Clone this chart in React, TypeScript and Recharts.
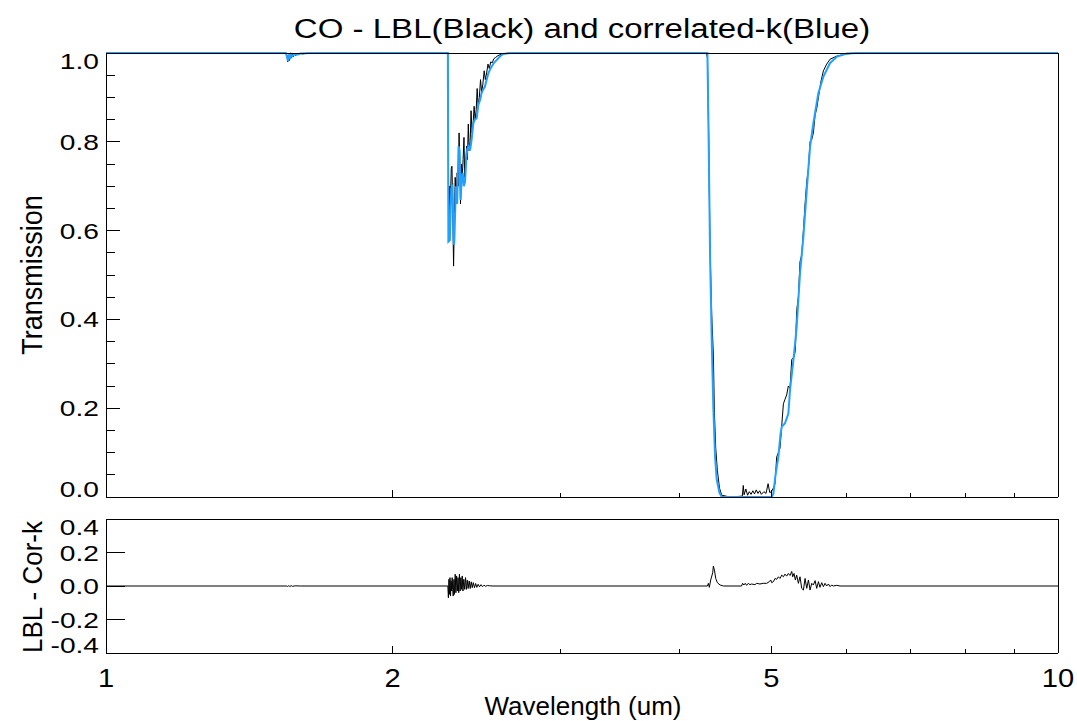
import React from 'react';
import { LineChart, Line, XAxis, YAxis } from 'recharts';

// LBL transmission (black)
const lblWave = [
  1.0, 1.545, 1.549, 1.552, 1.555, 1.558, 1.561, 1.564, 1.568, 1.572, 1.577, 1.582, 1.588, 1.594, 1.6, 1.61, 1.62, 1.64,
  2.286, 2.291, 2.296, 2.3, 2.305, 2.309, 2.313, 2.318, 2.322, 2.327, 2.333, 2.338, 2.344, 2.349, 2.353, 2.357, 2.362,
  2.367, 2.372, 2.377, 2.381, 2.386, 2.392, 2.397, 2.402, 2.407, 2.413, 2.418, 2.424, 2.43, 2.436, 2.442, 2.448, 2.454,
  2.46, 2.467, 2.474, 2.481, 2.488, 2.496, 2.503, 2.511, 2.519, 2.527, 2.536, 2.545, 2.555, 2.566, 2.58, 2.6, 2.63, 2.66,
  4.27, 4.283, 4.296, 4.31, 4.328, 4.345, 4.356, 4.37, 4.387, 4.41, 4.434, 4.5, 4.6, 4.66, 4.671, 4.68, 4.7, 4.72, 4.74,
  4.76, 4.78, 4.8, 4.82, 4.84, 4.86, 4.88, 4.91, 4.935, 4.96, 4.98, 5.0, 5.022, 5.044, 5.064, 5.085, 5.105, 5.126, 5.147,
  5.167, 5.188, 5.209, 5.23, 5.252, 5.281, 5.298, 5.315, 5.337, 5.358, 5.38, 5.402, 5.424, 5.446, 5.468, 5.49, 5.512,
  5.534, 5.557, 5.579, 5.602, 5.635, 5.67, 5.715, 5.762, 5.856, 6.0, 6.146, 10.0,
];
const lblTrans = [
  1.0, 1.0, 0.995, 0.98, 0.996, 0.983, 0.997, 0.988, 0.998, 0.991, 0.998, 0.994, 0.999, 0.996, 0.999, 0.998, 0.999, 1.0,
  1.0, 0.62, 0.7, 0.66, 0.74, 0.745, 0.65, 0.52, 0.62, 0.72, 0.66, 0.73, 0.7, 0.82, 0.75, 0.66, 0.75,
  0.72, 0.76, 0.81, 0.72, 0.74, 0.79, 0.76, 0.84, 0.78, 0.8, 0.87, 0.82, 0.84, 0.88, 0.85, 0.87, 0.92,
  0.88, 0.9, 0.94, 0.91, 0.93, 0.96, 0.94, 0.955, 0.975, 0.965, 0.98, 0.978, 0.987, 0.99, 0.994, 0.997, 0.999, 1.0,
  1.0, 0.99, 0.81, 0.56, 0.41, 0.32, 0.19, 0.11, 0.06, 0.02, 0.004, 0.001, 0.001, 0.002, 0.026, 0.005, 0.018, 0.004, 0.012,
  0.006, 0.014, 0.007, 0.016, 0.008, 0.014, 0.006, 0.012, 0.008, 0.03, 0.01, 0.012, 0.02, 0.03, 0.09, 0.1, 0.11, 0.16, 0.21,
  0.22, 0.23, 0.25, 0.245, 0.31, 0.315, 0.33, 0.42, 0.45, 0.53, 0.545, 0.6, 0.66, 0.71, 0.74, 0.8, 0.805,
  0.82, 0.86, 0.875, 0.9, 0.935, 0.96, 0.975, 0.986, 0.993, 0.998, 1.0, 1.0,
];

// correlated-k transmission (blue)
const ckWave = [
  1.0, 1.545, 1.55, 1.553, 1.556, 1.559, 1.563, 1.568, 1.575, 1.585, 1.6, 1.64,
  2.286, 2.289, 2.297, 2.305, 2.312, 2.319, 2.322, 2.331, 2.338, 2.346, 2.352, 2.358, 2.364, 2.37, 2.376, 2.383, 2.39,
  2.396, 2.404, 2.412, 2.421, 2.431, 2.44, 2.451, 2.461, 2.472, 2.48, 2.49, 2.5, 2.511, 2.521, 2.531, 2.541, 2.556,
  2.572, 2.593, 2.614, 2.635, 2.657,
  4.27, 4.283, 4.296, 4.31, 4.328, 4.345, 4.363, 4.38, 4.409, 4.434, 5.003, 5.024, 5.05, 5.085, 5.11, 5.126, 5.167,
  5.209, 5.23, 5.273, 5.315, 5.358, 5.402, 5.446, 5.49, 5.534, 5.6, 5.67, 5.76, 5.86, 6.0, 6.15, 10.0,
];
const ckTrans = [
  1.0, 1.0, 0.99, 0.982, 0.995, 0.986, 0.997, 0.992, 0.997, 0.996, 0.999, 1.0,
  1.0, 0.575, 0.578, 0.695, 0.7, 0.568, 0.575, 0.7, 0.66, 0.79, 0.78, 0.669, 0.72, 0.73, 0.7, 0.71, 0.76,
  0.785, 0.79, 0.78, 0.804, 0.841, 0.85, 0.853, 0.883, 0.895, 0.909, 0.918, 0.924, 0.94, 0.954, 0.962, 0.969, 0.978,
  0.984, 0.992, 0.998, 0.999, 1.0,
  1.0, 1.0, 0.8, 0.55, 0.35, 0.2, 0.09, 0.04, 0.01, 0.0, 0.0, 0.008, 0.05, 0.091, 0.14, 0.158, 0.166,
  0.188, 0.241, 0.308, 0.383, 0.504, 0.586, 0.691, 0.789, 0.842, 0.909, 0.947, 0.977, 0.992, 0.999, 1.0, 1.0,
];

// LBL - Cor-k
const diffWave = [
  1.0, 1.549, 1.552, 1.556, 1.56, 1.565, 1.57, 1.58, 1.6,
  2.286, 2.289, 2.292, 2.295, 2.298, 2.301, 2.304, 2.307, 2.31, 2.313, 2.316, 2.32, 2.323, 2.327, 2.331, 2.335, 2.339,
  2.343, 2.347, 2.351, 2.355, 2.359, 2.363, 2.367, 2.371, 2.376, 2.381, 2.386, 2.391, 2.396, 2.401, 2.407, 2.413, 2.419,
  2.425, 2.431, 2.438, 2.445, 2.452, 2.46, 2.468, 2.477, 2.486, 2.495, 2.505, 2.515, 2.53, 2.55,
  4.283, 4.293, 4.303, 4.317, 4.338, 4.345, 4.356, 4.37, 4.387, 4.416, 4.452, 4.652, 4.663, 4.678, 4.693, 4.709, 4.728,
  4.747, 4.766, 4.805, 4.824, 4.863, 4.902, 4.943, 4.975, 4.992, 5.003, 5.024, 5.044, 5.064, 5.085, 5.105, 5.126, 5.147,
  5.167, 5.188, 5.209, 5.23, 5.252, 5.264, 5.281, 5.298, 5.315, 5.337, 5.358, 5.38, 5.402, 5.424, 5.446, 5.468, 5.49,
  5.512, 5.534, 5.557, 5.579, 5.602, 5.623, 5.647, 5.67, 5.692, 5.715, 5.739, 5.762, 5.785, 5.808, 5.856, 5.903, 10.0,
];
const diffVal = [
  0, 0, -0.003, 0.002, -0.003, 0.002, -0.002, 0.001, 0,
  0, -0.07, 0.04, -0.05, 0.05, -0.06, 0.03, -0.03, 0.05, -0.02, -0.06, 0.04, -0.05, 0.07, -0.04, 0.06, -0.03,
  0.05, -0.04, 0.07, -0.03, 0.05, -0.02, 0.06, -0.03, 0.04, -0.02, 0.05, -0.02, 0.035, -0.015, 0.03, -0.015, 0.025,
  -0.01, 0.02, -0.01, 0.015, -0.008, 0.01, -0.005, 0.008, -0.004, 0.005, -0.002, 0.003, 0.001, 0,
  0, 0.016, -0.008, 0.036, 0.079, 0.119, 0.095, 0.045, 0.02, 0.006, 0, 0, 0.016, 0.006, 0.016, 0.004, 0.016,
  0.008, 0.012, 0.008, 0.016, 0.012, 0.016, 0.016, 0.026, 0.036, 0.02, 0.026, 0.045, 0.04, 0.055, 0.045, 0.065, 0.055,
  0.071, 0.059, 0.075, 0.063, 0.087, 0.055, 0.075, 0.036, 0.065, 0.016, 0.055, -0.014, -0.024, 0.045, -0.014, 0.036, -0.024,
  0.016, 0.006, 0.032, -0.014, 0.026, -0.008, 0.02, -0.004, 0.016, 0, 0.012, -0.004, 0.006, 0, 0.004, 0, 0,
];

const xTicks = [1, 2, 3, 4, 5, 6, 7, 8, 9, 10];
const xLabels = [1, 2, 5, 10];
const transTicks = [0, 0.05, 0.1, 0.15, 0.2, 0.25, 0.3, 0.35, 0.4, 0.45, 0.5, 0.55, 0.6, 0.65, 0.7, 0.75, 0.8, 0.85, 0.9, 0.95, 1.0];
const transLabels = [0, 0.2, 0.4, 0.6, 0.8, 1.0];
const diffTicks = [-0.4, -0.2, 0, 0.2, 0.4];

const FONT = '"Liberation Sans", Arial, Helvetica, sans-serif';
const BLUE = '#22a0ff';

const zip = (w: number[], v: number[]) => w.map((x, i) => ({ w: x, v: v[i] }));
const lblData = zip(lblWave, lblTrans);
const ckData = zip(ckWave, ckTrans);
const diffData = zip(diffWave, diffVal);

const has = (list: number[], v: number) => list.some((l) => Math.abs(l - v) < 1e-9);

const crisp = { stroke: '#000', strokeWidth: 1, shapeRendering: 'crispEdges' as const };

// y ticks drawn inward, labels clamped inside the axis range like IDL does
const leftTick = (labels: number[], top: number, bottom: number, majorLen: number, minorLen: number) => (props: any) => {
  const { x, y, payload } = props;
  const v = payload.value;
  const major = has(labels, v);
  const len = major ? majorLen : minorLen;
  const ty = Math.min(Math.max(y, top + 8), bottom - 8) + 8;
  return (
    <g>
      <line x1={x} y1={y} x2={x + len} y2={y} {...crisp} />
      {major && (
        <text transform={`translate(${x - 7},${ty}) scale(1.28,1)`} textAnchor="end" fontSize={22} fontFamily={FONT} fill="#000">
          {v.toFixed(1)}
        </text>
      )}
    </g>
  );
};

const rightTick = (labels: number[], majorLen: number, minorLen: number) => (props: any) => {
  const { x, y, payload } = props;
  const len = has(labels, payload.value) ? majorLen : minorLen;
  return <line x1={x} y1={y} x2={x - len} y2={y} {...crisp} />;
};

const bottomTick = (withLabels: boolean) => (props: any) => {
  const { x, y, payload } = props;
  const v = payload.value;
  const major = xLabels.includes(v);
  const len = major ? 7 : 4;
  return (
    <g>
      <line x1={x} y1={y} x2={x} y2={y - len} {...crisp} />
      {withLabels && major && (
        <text transform={`translate(${x},${y + 34}) scale(1.12,1)`} textAnchor="middle" fontSize={26} fontFamily={FONT} fill="#000">
          {v}
        </text>
      )}
    </g>
  );
};

const topTick = (props: any) => {
  const { x, y, payload } = props;
  const len = xLabels.includes(payload.value) ? 7 : 4;
  return <line x1={x} y1={y} x2={x} y2={y + len} {...crisp} />;
};

const W = 1077;

export default function App() {
  return (
    <div style={{ position: 'absolute', left: 0, top: 0, width: W, height: 721, background: '#fff' }}>
      <div style={{ position: 'absolute', left: 0, top: 0 }}>
        <LineChart width={W} height={510} margin={{ top: 0, right: 0, bottom: 0, left: 0 }}>
          <XAxis xAxisId="b" dataKey="w" type="number" scale="log" domain={[1, 10]} ticks={xTicks} interval={0}
            height={13} tickSize={0} tickMargin={0} tickLine={false} axisLine={crisp} tick={bottomTick(false)} />
          <XAxis xAxisId="t" orientation="top" dataKey="w" type="number" scale="log" domain={[1, 10]} ticks={xTicks} interval={0}
            height={53} tickSize={0} tickMargin={0} tickLine={false} axisLine={crisp} tick={topTick} />
          <YAxis yAxisId="l" type="number" domain={[0, 1]} ticks={transTicks} interval={0} width={106}
            tickSize={0} tickMargin={0} tickLine={false} axisLine={crisp} tick={leftTick(transLabels, 53, 497, 14, 9)} />
          <YAxis yAxisId="r" orientation="right" type="number" domain={[0, 1]} ticks={transTicks} interval={0} width={19}
            tickSize={0} tickMargin={0} tickLine={false} axisLine={crisp} tick={rightTick(transLabels, 19, 9)} />
          <Line xAxisId="b" yAxisId="l" data={lblData} dataKey="v" type="linear" stroke="#000" strokeWidth={1}
            dot={false} isAnimationActive={false} />
          <Line xAxisId="b" yAxisId="l" data={ckData} dataKey="v" type="linear" stroke={BLUE} strokeWidth={2}
            dot={false} isAnimationActive={false} />
        </LineChart>
      </div>
      <div style={{ position: 'absolute', left: 0, top: 505 }}>
        <LineChart width={W} height={216} margin={{ top: 0, right: 0, bottom: 0, left: 0 }}>
          <XAxis xAxisId="b" dataKey="w" type="number" scale="log" domain={[1, 10]} ticks={xTicks} interval={0}
            height={68} tickSize={0} tickMargin={0} tickLine={false} axisLine={crisp} tick={bottomTick(true)} />
          <XAxis xAxisId="t" orientation="top" dataKey="w" type="number" scale="log" domain={[1, 10]} ticks={xTicks} interval={0}
            height={14} tickSize={0} tickMargin={0} tickLine={false} axisLine={crisp} tick={topTick} />
          <YAxis yAxisId="l" type="number" domain={[-0.4, 0.4]} ticks={diffTicks} interval={0} width={106}
            tickSize={0} tickMargin={0} tickLine={false} axisLine={crisp} tick={leftTick(diffTicks, 14, 148, 19, 19)} />
          <YAxis yAxisId="r" orientation="right" type="number" domain={[-0.4, 0.4]} ticks={diffTicks} interval={0} width={19}
            tickSize={0} tickMargin={0} tickLine={false} axisLine={crisp} tick={rightTick(diffTicks, 19, 19)} />
          <Line xAxisId="b" yAxisId="l" data={diffData} dataKey="v" type="linear" stroke="#000" strokeWidth={1}
            dot={false} isAnimationActive={false} />
        </LineChart>
      </div>
      <svg width={W} height={721} style={{ position: 'absolute', left: 0, top: 0, pointerEvents: 'none' }}>
        <text transform="translate(582,38) scale(1.18,1)" textAnchor="middle" fontSize={28} fontFamily={FONT} fill="#000">
          CO - LBL(Black) and correlated-k(Blue)
        </text>
        <text transform="translate(42,275) scale(1.08,1) rotate(-90)" textAnchor="middle" fontSize={27} fontFamily={FONT} fill="#000">
          Transmission
        </text>
        <text transform="translate(42,587) scale(1.08,1) rotate(-90)" textAnchor="middle" fontSize={26} fontFamily={FONT} fill="#000">
          LBL - Cor-k
        </text>
        <text x={583} y={715} textAnchor="middle" fontSize={26} fontFamily={FONT} fill="#000">
          Wavelength (um)
        </text>
      </svg>
    </div>
  );
}
